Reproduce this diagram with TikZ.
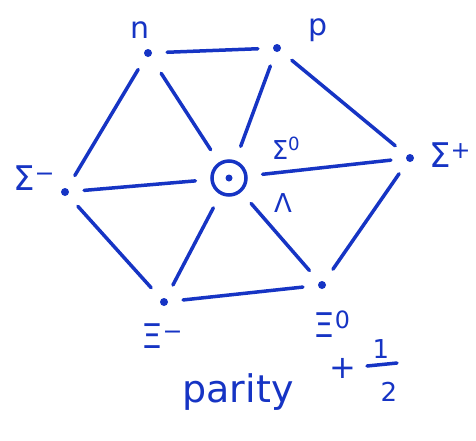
\documentclass[tikz,border=0pt]{standalone}
\usepackage{fontspec}
\setmainfont{DejaVu Sans}
\definecolor{ink}{RGB}{22,52,196}
\begin{document}
\begin{tikzpicture}[x=1pt,y=-1pt,
  every node/.style={text=ink},
  dotnode/.style={circle,fill=ink,inner sep=0pt,minimum size=8pt},
  edge/.style={draw=ink,line width=3.5pt,line cap=round,shorten <=15pt,shorten >=15pt},
  lbl/.style={font=\fontsize{34}{34}\selectfont},
  slbl/.style={font=\fontsize{26}{26}\selectfont}]
\useasboundingbox (0,0) rectangle (476,440);
\fill[white] (0,0) rectangle (476,440);
% particles
\node[dotnode] (n) at (148,53) {};
\node[dotnode] (p) at (277,48) {};
\node[dotnode] (sm) at (65,192) {};
\node[dotnode] (sp) at (410,158) {};
\node[dotnode] (xm) at (164,302) {};
\node[dotnode] (x0) at (322,285) {};
\node[circle,draw=ink,line width=3.5pt,minimum size=34pt,inner sep=0pt] (c) at (229,178) {};
\node[circle,fill=ink,inner sep=0pt,minimum size=7pt] (cd) at (c.center) {};
% connectors
\draw[edge] (n) -- (p);
\draw[edge] (p) -- (sp);
\draw[edge] (n) -- (sm);
\draw[edge,shorten <=20pt] (n) -- (c);
\draw[edge] (p) -- (c);
\draw[edge] (sm) -- (c);
\draw[edge] (c) -- (sp);
\draw[edge] (sm) -- (xm);
\draw[edge] (c) -- (xm);
\draw[edge] (c) -- (x0);
\draw[edge] (sp) -- (x0);
\draw[edge] (xm) -- (x0);
% labels
\node[font=\fontsize{30}{30}\selectfont] (ln) at (140,30) {n};
\node[font=\fontsize{30}{30}\selectfont] (lp) at (318,30) {p};
\node[lbl] (lsm) at (34,178) {Σ\textsuperscript{−}};
\node[lbl] (lsp) at (450,155) {Σ\textsuperscript{+}};
\node[slbl] (ls0) at (286,148) {Σ\textsuperscript{0}};
\node[slbl] (lL) at (283,203) {Λ};
\node[lbl] (lxm) at (162,336) {Ξ\textsuperscript{−}};
\node[lbl] (lx0) at (332,324) {Ξ\textsuperscript{0}};
\node[font=\fontsize{38}{38}\selectfont] (par) at (238,392) {parity};
\node[font=\fontsize{32}{32}\selectfont] (plus) at (343,368) {+};
\node[font=\fontsize{26}{26}\selectfont] (one) at (381,349) {1};
\node[font=\fontsize{26}{26}\selectfont] (two) at (389,392) {2};
\draw[ink,line width=3.5pt,line cap=round] (367,366) -- (397,363);
\end{tikzpicture}
\end{document}
